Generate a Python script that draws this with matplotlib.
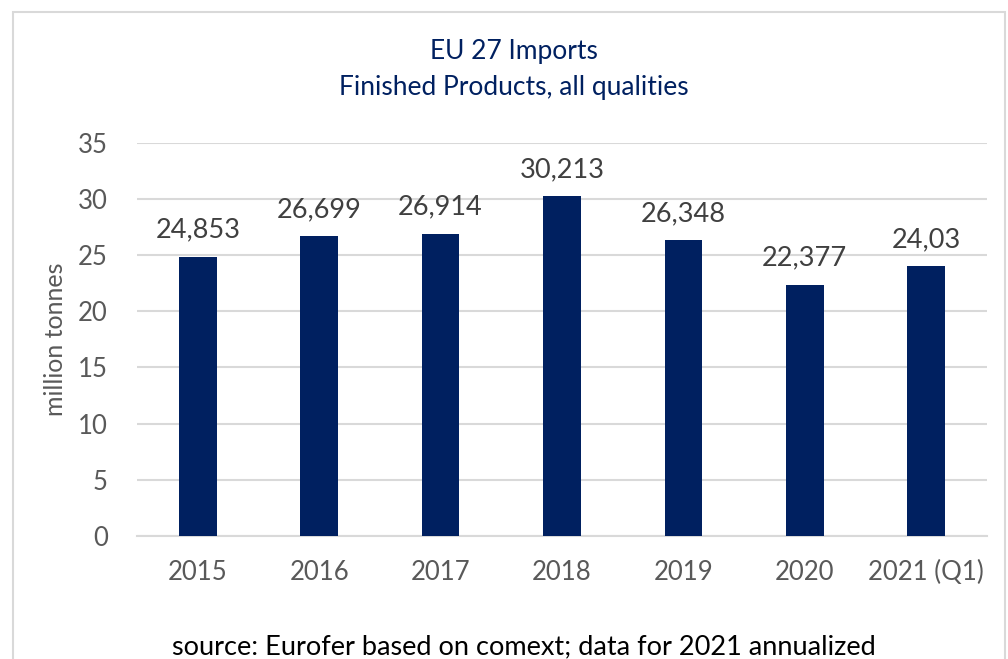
import matplotlib
matplotlib.use('Agg')
import matplotlib.pyplot as plt
from matplotlib.patches import Rectangle

plt.rcParams['font.family'] = ['Lato', 'DejaVu Sans']

# data
years = ['2015', '2016', '2017', '2018', '2019', '2020', '2021 (Q1)']
imports = [24.853, 26.699, 26.914, 30.213, 26.348, 22.377, 24.03]
value_labels = ['24,853', '26,699', '26,914', '30,213', '26,348', '22,377', '24,03']

fig = plt.figure(figsize=(10.08, 6.59), dpi=100)
ax = fig.add_axes([0.136, 0.1867, 0.843, 0.5968])

ax.bar(years, imports, width=0.31, color='#002060', zorder=3)
ax.set_ylim(0, 35)
ax.set_xlim(-0.5, len(years) - 0.5)
ax.set_yticks(range(0, 36, 5))
ax.yaxis.grid(True, color='#d9d9d9', linewidth=1.5, zorder=0)
ax.set_axisbelow(True)
for s in ['top', 'right', 'left']:
    ax.spines[s].set_visible(False)
ax.spines['bottom'].set_color('#d9d9d9')
ax.spines['bottom'].set_linewidth(1.5)
ax.tick_params(axis='both', length=0, labelsize=18.5, labelcolor='#595959')
ax.tick_params(axis='x', pad=17)
ax.tick_params(axis='y', pad=21)
ax.set_ylabel('million tonnes', fontsize=18, color='#595959', labelpad=8)

for x, v, lab in zip(years, imports, value_labels):
    ax.annotate(lab, (x, v), xytext=(0, 10), textcoords='offset points',
                ha='center', va='bottom', fontsize=19.5, color='#404040')

fig.text(0.51, 1 - 52 / 659, 'EU 27 Imports', ha='center', va='center',
         fontsize=19, color='#002060')
fig.text(0.51, 1 - 88 / 659, 'Finished Products, all qualities', ha='center',
         va='center', fontsize=19, color='#002060')
fig.text(0.52, 1 - 647 / 659, 'source: Eurofer based on comext; data for 2021 annualized',
         ha='center', va='center', fontsize=19.5, color='#000000')

# chart border
fig.patches.append(Rectangle((13 / 1008, -0.05), (1005 - 13) / 1008, 1 - 12 / 659 + 0.05,
                             transform=fig.transFigure, fill=False,
                             edgecolor='#d9d9d9', linewidth=1.5))

fig.savefig('out.png', dpi=100)
